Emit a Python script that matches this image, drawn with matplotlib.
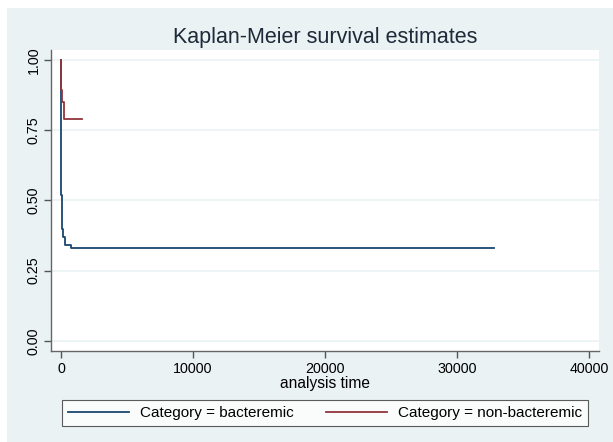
import matplotlib.pyplot as plt
from matplotlib.patches import Rectangle

plt.rcParams["font.family"] = ["Liberation Sans", "DejaVu Sans"]

# Kaplan-Meier step points
bact_time = [0, 4, 8, 14, 20, 30, 45, 60, 90, 130, 175, 300, 735, 32800]
bact_surv = [1.0, 0.88, 0.78, 0.68, 0.6, 0.52, 0.46, 0.43, 0.40, 0.38, 0.37, 0.342, 0.33, 0.33]

nonbact_time = [0, 20, 100, 200, 1570]
nonbact_surv = [1.0, 0.893, 0.852, 0.79, 0.79]

x_ticks = [0, 10000, 20000, 30000, 40000]
y_ticks = [0.0, 0.25, 0.5, 0.75, 1.0]
y_labels = ["0.00", "0.25", "0.50", "0.75", "1.00"]

navy = "#1A476F"
maroon = "#90353B"
bg = "#EAF2F3"

fig = plt.figure(figsize=(6.13, 4.42), dpi=100, facecolor="white")
fig.patches.append(Rectangle((7 / 613, 0), 1 - 7 / 613, 1 - 8 / 442,
                             transform=fig.transFigure, facecolor=bg,
                             edgecolor="none", zorder=-10))

ax = fig.add_axes([0.084, 0.2066, 0.893, 0.6804])
ax.set_facecolor("white")

ax.step(bact_time, bact_surv, where="post", color=navy, lw=1.3,
        label="Category = bacteremic")
ax.step(nonbact_time, nonbact_surv, where="post", color=maroon, lw=1.3,
        label="Category = non-bacteremic")

ax.set_xlim(-720, 40750)
ax.set_ylim(-0.035, 1.036)
ax.set_xticks(x_ticks)
ax.set_yticks(y_ticks)
ax.set_yticklabels(y_labels, rotation=90, va="center")
ax.tick_params(axis="both", labelsize=10.3, length=5, width=1, color="#555555",
               direction="out", pad=3)

ax.grid(axis="y", color=bg, lw=1.2)
ax.set_axisbelow(True)
for side in ["top", "right"]:
    ax.spines[side].set_visible(False)
for side in ["left", "bottom"]:
    ax.spines[side].set_color("#666666")
    ax.spines[side].set_linewidth(1.0)

ax.set_xlabel("analysis time", fontsize=11.2, labelpad=0)
fig.text(325 / 613, 1 - 37 / 442, "Kaplan-Meier survival estimates",
         ha="center", va="center", fontsize=15.5, color="#1E2A3A")

leg = fig.legend(loc="center", bbox_to_anchor=(325 / 613, 1 - 413 / 442),
                 ncol=2, fontsize=11, frameon=True, fancybox=False,
                 handlelength=4.0, columnspacing=2.1, borderpad=0.38,
                 handletextpad=0.7)
leg.get_frame().set_edgecolor("#333333")
leg.get_frame().set_linewidth(0.8)

fig.savefig("out.png", dpi=100, facecolor=fig.get_facecolor())
